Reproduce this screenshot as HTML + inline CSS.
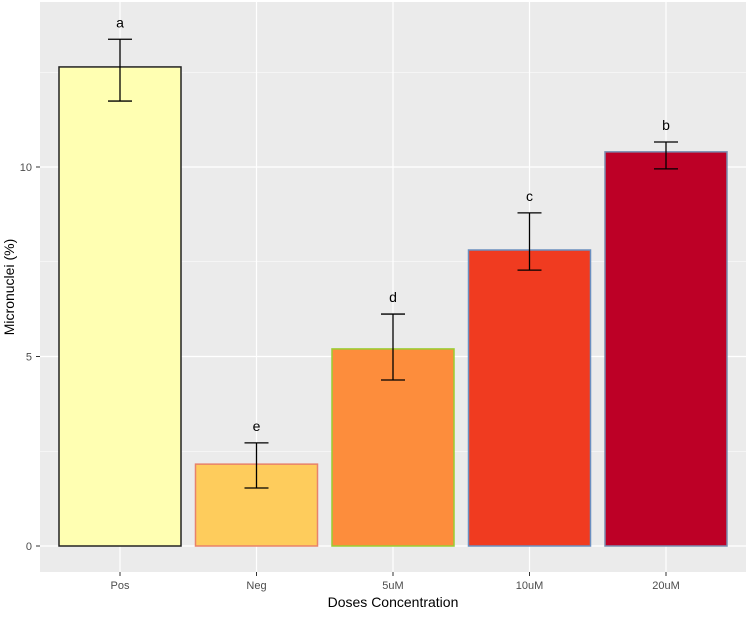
<!DOCTYPE html>
<html><head><meta charset="utf-8"><style>
body{margin:0;background:#fff;font-family:"Liberation Sans",sans-serif}
</style></head><body>
<svg id="chart" width="750" height="613" xmlns="http://www.w3.org/2000/svg" font-family="Liberation Sans, sans-serif">
<rect x="40" y="2" width="706" height="570" fill="#EBEBEB"/>
<g id="grid"></g><g id="bars"></g><g id="axes"></g>
<text x="393" y="607" text-anchor="middle" font-size="14" fill="#000">Doses Concentration</text>
<text transform="translate(14,287) rotate(-90)" text-anchor="middle" font-size="14" fill="#000">Micronuclei (%)</text>
</svg>
<script>
const categories=["Pos","Neg","5uM","10uM","20uM"];
const means=[12.64,2.16,5.2,7.81,10.4];
const errLow=[11.74,1.53,4.38,7.28,9.95];
const errHigh=[13.37,2.72,6.12,8.79,10.66];
const letters=["a","e","d","c","b"];
const fills=["#FFFFB2","#FECC5C","#FD8D3C","#F03B20","#BD0026"];
const strokes=["#222","#E8826A","#9ACD32","#6B8FC0","#7A8DB0"];
const yTicks=[0,5,10];
const yMinor=[2.5,7.5,12.5];
const NS="http://www.w3.org/2000/svg";
const y=v=>546-v*37.9;
const x=i=>120+i*136.5;
const bw=122;
function mk(tag,attrs,parent,text){const e=document.createElementNS(NS,tag);for(const k in attrs)e.setAttribute(k,attrs[k]);if(text!==undefined)e.textContent=text;document.getElementById(parent).appendChild(e);return e;}
yMinor.forEach(v=>{const e=mk('line',{x1:40,x2:746,y1:y(v),y2:y(v),stroke:'#fff','stroke-width':0.6},'grid');

});
yTicks.forEach(v=>{const e=mk('line',{x1:40,x2:746,y1:y(v),y2:y(v),stroke:'#fff','stroke-width':1.2},'grid');


const t=mk('text',{x:32,y:y(v)+4,'text-anchor':'end','font-size':11,fill:'#4D4D4D'},'axes',String(v));


mk('line',{x1:36,x2:40,y1:y(v),y2:y(v),stroke:'#333'},'axes');});
categories.forEach((c,i)=>{const g=mk('line',{x1:x(i),x2:x(i),y1:2,y2:572,stroke:'#fff','stroke-width':1.2},'grid');


const r=mk('rect',{x:x(i)-bw/2,y:y(means[i]),width:bw,height:y(0)-y(means[i]),fill:fills[i],stroke:strokes[i],'stroke-width':1.5},'bars');


const eb=mk('path',{d:`M${x(i)-12},${y(errHigh[i])}H${x(i)+12}M${x(i)},${y(errHigh[i])}V${y(errLow[i])}M${x(i)-12},${y(errLow[i])}H${x(i)+12}`,stroke:'#000','stroke-width':1.3,fill:'none'},'bars');


const l=mk('text',{x:x(i),y:y(errHigh[i])-12,'text-anchor':'middle','font-size':14,fill:'#000'},'bars',letters[i]);


mk('line',{x1:x(i),x2:x(i),y1:572,y2:576,stroke:'#333'},'axes');
const t=mk('text',{x:x(i),y:589,'text-anchor':'middle','font-size':11,fill:'#4D4D4D'},'axes',c);

});
</script>
</body></html>
